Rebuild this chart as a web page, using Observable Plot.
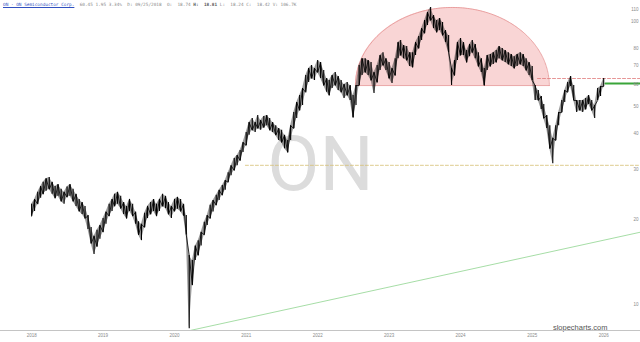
<!DOCTYPE html>
<html><head><meta charset="utf-8">
<script src="https://cdn.jsdelivr.net/npm/d3@7"></script>
<script src="https://cdn.jsdelivr.net/npm/@observablehq/plot@0.6"></script>
<style>
body{margin:0;background:#fff;}
#wrap{position:relative;width:640px;height:342px;overflow:hidden;}
#hdr{position:absolute;left:3px;top:2px;font:4.4px "DejaVu Sans Mono",monospace;color:#8a8a8a;white-space:pre;}
#hdr span.t{color:#3050c0;text-decoration:underline;}
#hdr b{color:#555;}
</style></head><body>
<div id="wrap"><div id="chart"></div>
<div id="hdr"><span class="t">ON - ON Semiconductor Corp.</span>  60.45 1.95 3.34%  D: 09/25/2018  O:  18.74 <b>H:</b>  <b>18.81</b> L:  18.24 C:  18.42 V: 106.7K</div>
</div>
<script>
// semi-monthly samples from 2018-01-01 (1st and 16th of each month)
const lows = [
20.5,21.3,22.6,23.7,24.5,25.1,25.5,24.5,23.7,24.1,
23.1,22.6,23.9,24.1,23.1,22.2,21.3,20.8,20.1,18.4,
16.4,15.0,16.0,17.0,18.0,19.2,20.5,21.3,22.2,22.6,
21.8,20.8,20.1,21.3,20.5,19.2,17.6,16.8,18.7,20.1,
20.8,21.3,20.5,21.3,22.2,21.8,20.8,20.1,21.3,21.7,
21.3,20.5,17.6,8.2,11.7,14.3,14.9,16.1,17.6,19.0,
20.1,21.2,22.4,23.3,24.3,25.3,27.0,28.5,29.7,30.9,
32.2,34.4,36.4,39.6,41.2,40.5,41.8,41.2,42.1,42.8,
41.2,40.5,39.6,37.9,37.3,35.5,34.4,37.9,41.8,45.4,
48.4,50.4,56.1,60.8,62.8,61.8,65.9,62.8,59.3,56.1,
54.7,57.9,59.3,57.0,56.1,53.4,54.7,52.5,45.7,50.4,
59.3,64.3,65.9,64.3,61.8,55.6,60.8,67.0,69.8,67.0,
62.8,60.3,64.3,73.8,75.7,73.8,72.7,69.2,68.7,75.7,
80.1,85.5,90.6,96.6,100.6,94.3,91.3,92.8,89.1,84.1,
77.5,59.3,64.3,72.7,75.7,75.7,71.5,75.0,77.5,73.8,
69.2,65.9,59.3,67.0,69.2,70.4,71.5,73.8,72.7,71.5,
70.4,69.2,68.1,69.2,70.4,69.2,67.0,64.3,61.8,52.5,
52.5,48.8,45.4,41.8,35.5,31.4,37.9,42.8,47.6,51.7,
56.1,58.8,52.5,47.6,48.4,47.6,48.8,50.8,48.4,45.4,
52.5,54.3,58.8];
const highs = [
22.6,23.5,24.9,26.1,27.0,27.8,28.1,27.0,26.1,26.5,
25.5,24.9,26.0,26.5,25.5,24.5,23.5,22.9,22.2,20.6,
18.7,17.4,18.3,19.0,20.1,21.2,22.6,23.5,24.5,24.9,
24.1,22.9,22.2,23.5,22.6,21.2,19.6,19.2,21.0,22.2,
22.9,23.5,22.6,23.5,24.5,24.1,22.9,22.2,23.5,23.9,
23.5,22.6,20.6,14.9,14.3,16.1,16.8,18.0,19.5,20.6,
22.4,23.3,24.3,25.3,26.3,27.4,29.2,30.9,32.8,33.6,
35.0,37.3,40.5,43.9,45.4,43.9,46.5,44.6,46.1,46.5,
45.4,43.9,42.8,41.8,41.2,39.6,37.9,42.8,47.6,51.7,
54.7,57.9,64.3,68.1,69.8,68.1,72.7,71.5,67.0,62.8,
61.8,64.3,65.9,63.8,61.8,59.8,60.8,59.3,54.7,59.3,
69.8,73.8,73.8,72.7,71.5,65.9,69.8,75.7,77.5,73.8,
71.5,68.1,73.8,84.1,85.5,82.1,81.4,77.5,77.5,84.1,
88.4,94.3,100.6,107.4,111.9,104.8,100.6,102.3,99.0,92.8,
89.1,68.1,72.7,84.1,86.9,84.1,78.8,82.8,85.5,82.8,
77.5,73.8,68.1,75.7,76.3,77.5,78.8,81.4,80.1,78.8,
77.5,76.3,75.0,76.3,77.5,76.3,73.8,71.5,69.2,59.3,
57.0,54.3,50.8,46.5,42.8,38.6,42.8,47.6,52.5,57.0,
60.8,63.8,59.3,52.5,52.5,52.5,53.4,54.7,52.5,50.4,
57.9,58.8,62.8];
const yTicks = [10,20,30,40,50,60,70,80,90,100,110];

// annotations (dates, prices)
const domeCenter = "2023-11-20", domeHalfDays = 495, domeBase = 59.3, domeTop = 111.9;
const resistanceLine = [["2025-01-28", 62.8], ["2026-07-08", 62.8]];
const supportLine = [["2020-12-28", 31.0], ["2026-07-08", 31.0]];
const lastPriceLine = [["2026-01-10", 60.3], ["2026-07-08", 60.3]];
const trendLine = [["2020-03-23", 8.1], ["2026-07-08", 18.0]];

const bars = lows.map((lo, i) => ({
  date: new Date(Date.UTC(2018 + Math.floor(i / 24), Math.floor((i % 24) / 2), (i % 2) ? 16 : 1)),
  low: lo, high: highs[i]
}));
// zig-zag path through the bars' alternating extremes (bar texture)
const zig = bars.map((b, i) => ({date: b.date, value: i % 2 ? b.high : b.low}));
const toPts = a => a.map(([d, v]) => ({date: new Date(d), value: v}));

const c = new Date(domeCenter).getTime(), day = 864e5, k = Math.log(domeTop / domeBase);
const dome = d3.range(0, 181).map(a => {
  const th = Math.PI * (1 - a / 180);
  return {date: new Date(c + Math.cos(th) * domeHalfDays * day), value: domeBase * Math.exp(k * Math.sin(th))};
});

const chart = Plot.plot({
  width: 640, height: 342,
  marginTop: 0, marginLeft: 0, marginRight: 0, marginBottom: 12,
  style: {background: "transparent", color: "#8a8a8a", fontFamily: "Liberation Sans, Arial, sans-serif"},
  x: {type: "utc", domain: [new Date("2017-07-26"), new Date("2026-07-08")], range: [0, 640]},
  y: {type: "log", domain: [8, 115], range: [331.4, 3.6]},
  marks: [
    Plot.text(["ON"], {frameAnchor: "middle", text: d => d, fontSize: 76, fill: "#dcdcdc", fontFamily: "Roboto, sans-serif"}),
    Plot.areaY(dome, {x: "date", y1: () => domeBase, y2: "value", fill: "#f9d5d5"}),
    Plot.line(dome, {x: "date", y: "value", stroke: "#e59090", strokeWidth: 0.8}),
    Plot.line([dome[0], dome[dome.length - 1]], {x: "date", y: () => domeBase, stroke: "#e59090", strokeWidth: 0.8}),
    Plot.line(toPts(resistanceLine), {x: "date", y: "value", stroke: "#e07b7b", strokeWidth: 0.8, strokeDasharray: "3,2"}),
    Plot.line(toPts(supportLine), {x: "date", y: "value", stroke: "#d6bf72", strokeWidth: 0.8, strokeDasharray: "3,2"}),
    Plot.line(toPts(trendLine), {x: "date", y: "value", stroke: "#8fd48f", strokeWidth: 0.8}),
    Plot.areaY(bars, {x: "date", y1: "low", y2: "high", fill: "#222", fillOpacity: 0.45}),
    Plot.ruleX(bars, {x: "date", y1: "low", y2: "high", stroke: "#000", strokeWidth: 1.1}),
    Plot.line(zig, {x: "date", y: "value", stroke: "#000", strokeWidth: 0.8}),
    Plot.line(toPts(lastPriceLine), {x: "date", y: "value", stroke: "#3aa53a", strokeWidth: 2}),
    Plot.text(["slopecharts.com"], {frameAnchor: "bottom-right", text: d => d, textAnchor: "end", lineAnchor: "bottom", dx: -33, dy: -1, fontSize: 7.5, fill: "#555", fontFamily: "Liberation Sans, Arial, sans-serif"}),
    Plot.frame({anchor: "bottom", stroke: "#c4c4c4"}),
    Plot.axisX({ticks: d3.utcYear.every(1), tickFormat: d3.utcFormat("%Y"), tickSize: 0, tickPadding: 3, fontSize: 4.5}),
    Plot.axisY({anchor: "right", ticks: yTicks, tickFormat: d => String(d), tickSize: 0, tickPadding: 3, textAnchor: "end", dx: -5, fontSize: 4.5})
  ]
});
document.getElementById("chart").appendChild(chart);
</script></body></html>
